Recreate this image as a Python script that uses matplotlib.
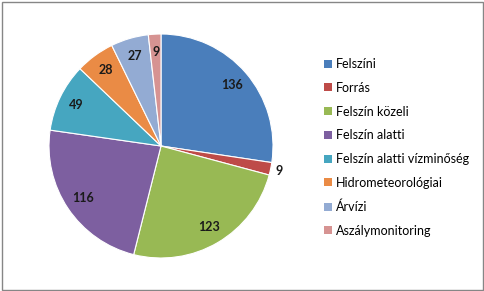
import matplotlib
matplotlib.use("Agg")
import matplotlib.pyplot as plt
from matplotlib.patches import Rectangle, Patch
import numpy as np

plt.rcParams['font.family'] = ['Lato', 'DejaVu Sans']

labels = ['Felszíni', 'Forrás', 'Felszín közeli', 'Felszín alatti',
          'Felszín alatti vízminőség', 'Hidrometeorológiai', 'Árvízi',
          'Aszálymonitoring']
values = [136, 9, 123, 116, 49, 28, 27, 9]
colors = ['#4A7EBB', '#BE4B48', '#98B954', '#7D5FA0',
          '#46A6C0', '#EA8B45', '#93ABD3', '#D69392']

W, H = 484, 291
fig = plt.figure(figsize=(W / 100, H / 100), dpi=100)

# pie centred at (161,146) px, radius 112 px
cx, cy, r = 161, 146, 112
ax = fig.add_axes([(cx - r) / W, (H - cy - r) / H, 2 * r / W, 2 * r / H])
wedges, _ = ax.pie(values, colors=colors, startangle=90, counterclock=False,
                   radius=1, wedgeprops=dict(edgecolor='white', linewidth=0.8))
ax.set_xlim(-1, 1)
ax.set_ylim(-1, 1)
ax.set_aspect('equal')
ax.axis('off')

# data labels
for i, (w, v) in enumerate(zip(wedges, values)):
    mid = np.deg2rad((w.theta1 + w.theta2) / 2)
    dist = 1.08 if i == 1 else 0.84
    ax.text(dist * np.cos(mid), dist * np.sin(mid), str(v), ha='center',
            va='center', fontsize=9, fontweight='bold', color='#1a1a1a')

handles = [Patch(facecolor=c, edgecolor='none') for c in colors]
leg = fig.legend(handles, labels, loc='upper left',
                 bbox_to_anchor=(319 / W, 1 - 53 / H), frameon=False,
                 fontsize=9, handlelength=0.6, handleheight=0.6,
                 handletextpad=0.35, labelspacing=0.94, borderaxespad=0)

fig.patches.append(Rectangle((1.5 / W, 1.5 / H), (W - 3) / W, (H - 3) / H,
                             transform=fig.transFigure, fill=False,
                             edgecolor='#868686', linewidth=1))

fig.savefig('out.png', dpi=100)
